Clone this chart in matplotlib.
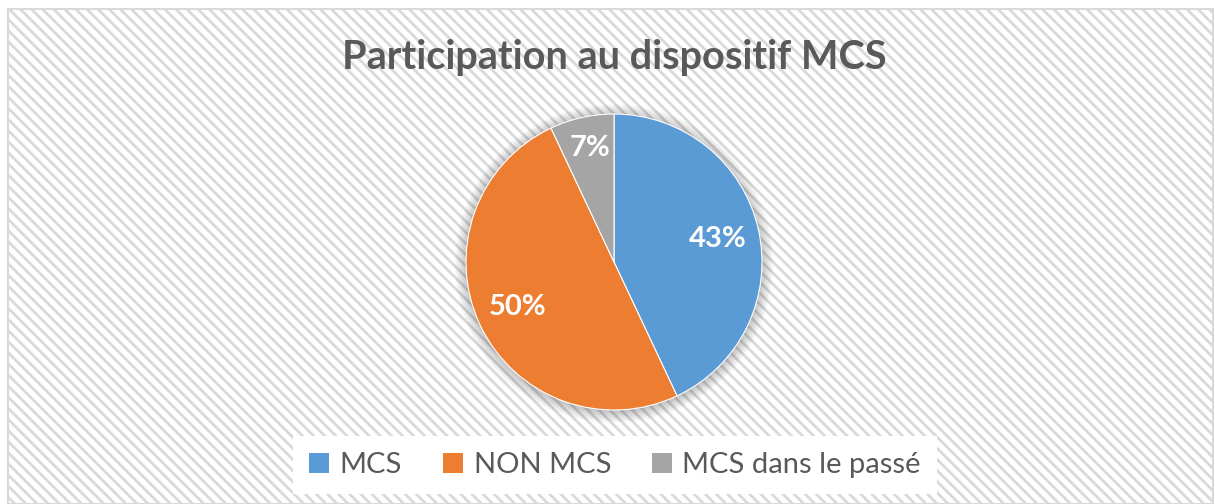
import matplotlib.pyplot as plt
from matplotlib.patches import Rectangle, Circle

labels = ['MCS', 'NON MCS', 'MCS dans le passé']
values = [43, 50, 7]
colors = ['#5B9BD5', '#ED7D31', '#A5A5A5']
title = 'Participation au dispositif MCS'

plt.rcParams['font.family'] = ['Lato', 'DejaVu Sans']
plt.rcParams['hatch.linewidth'] = 2.0
plt.rcParams['hatch.color'] = '#f6f6f6'

W, H = 1215, 504
fig = plt.figure(figsize=(W / 100, H / 100), dpi=100)
fig.patch.set_facecolor('white')

# hatched background with thin border
bg = Rectangle((8 / W, 0), (W - 10) / W, (H - 9) / H, transform=fig.transFigure,
               facecolor='white', edgecolor='#d9d9d9', hatch='\\\\\\', lw=1.5, zorder=-5)
fig.patches.append(bg)

cx, cy, r = 614, 262, 148
ax = fig.add_axes([(cx - 160) / W, (H - cy - 160) / H, 320 / W, 320 / H])
ax.set_zorder(2)

# soft shadow
for i in range(12):
    ax.add_patch(Circle((0, -0.01), 1 + 0.007 * i, facecolor='#000000', alpha=0.02,
                        edgecolor='none', zorder=0))

wedges, texts, autotexts = ax.pie(values, colors=colors, startangle=90, counterclock=False,
                                  autopct='%d%%', pctdistance=0.72,
                                  wedgeprops=dict(edgecolor='white', linewidth=0.8),
                                  textprops=dict(color='white', fontsize=21, fontweight='bold'),
                                  frame=True)
ax.set_xlim(-160 / r, 160 / r)
ax.set_ylim(-160 / r, 160 / r)
ax.axis('off')
x7, y7 = autotexts[2].get_position()
autotexts[2].set_position((x7 * 1.05, y7 * 1.1))

fig.text(cx / W, 1 - 58 / H, title, ha='center', va='center', fontsize=28.5,
         fontweight='bold', color='#595959')

leg = fig.legend(wedges, labels, loc='center', bbox_to_anchor=(615 / W, 1 - 465 / H), ncol=3,
                 frameon=True, fontsize=21, handlelength=0.7, handleheight=0.7,
                 columnspacing=1.4, handletextpad=0.35, borderpad=0.55, labelcolor='#595959')
leg.get_frame().set_facecolor('white')
leg.get_frame().set_edgecolor('none')
leg.get_frame().set_boxstyle('square', pad=0)
leg.get_frame().set_alpha(1)
for h in leg.legend_handles:
    h.set_edgecolor('none')

fig.savefig('out.png', dpi=100)
